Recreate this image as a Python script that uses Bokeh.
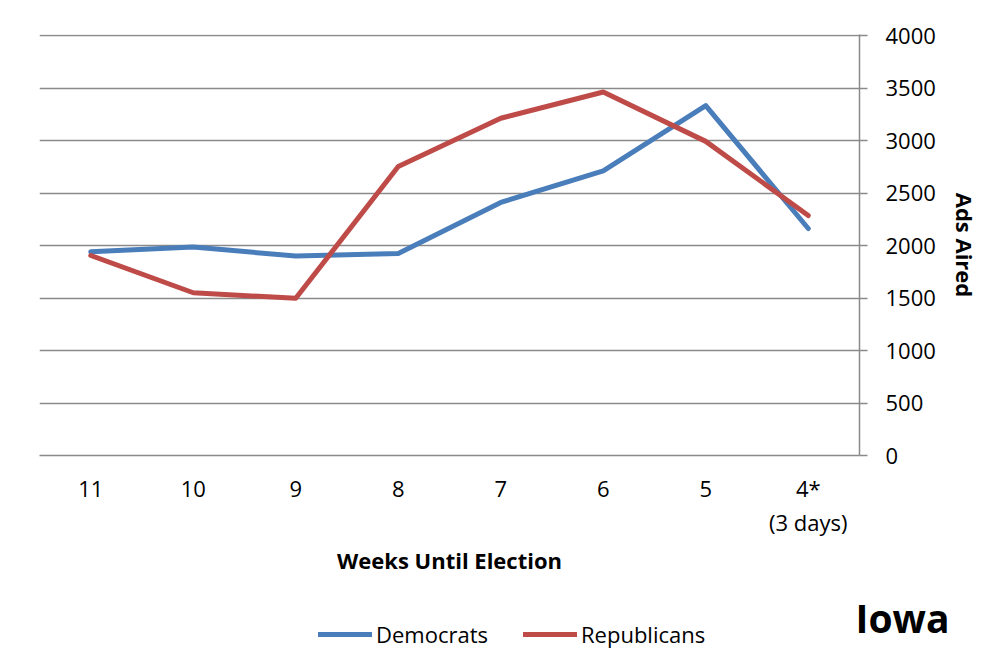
from bokeh.plotting import figure
from bokeh.models import FactorRange, Range1d, Legend, LegendItem, LinearAxis, FixedTicker
from bokeh.layouts import column
from bokeh.embed import file_html
from bokeh.resources import INLINE

weeks = ["11", "10", "9", "8", "7", "6", "5", "4*\n(3 days)"]
democrats = [1940, 1985, 1900, 1925, 2410, 2712, 3332, 2162]
republicans = [1905, 1550, 1497, 2752, 3212, 3462, 2992, 2286]
y_ticks = [0, 500, 1000, 1500, 2000, 2500, 3000, 3500, 4000]
series_names = ["Democrats", "Republicans"]
state = "Iowa"

FONT = "Open Sans"
GRAY = "#8a8a8a"
BLUE = "#4A7EBB"
RED = "#BE4B48"

p = figure(
    x_range=FactorRange(factors=weeks, range_padding=0),
    y_range=Range1d(0, 4010),
    width=997, height=585,
    min_border_left=39, min_border_top=34, min_border_right=138, min_border_bottom=130,
    output_backend="svg", toolbar_location=None,
    y_axis_location="right",
)
p.outline_line_color = None
p.background_fill_color = "white"
p.border_fill_color = "white"

# y axis (right)
ya = p.yaxis[0]
ya.ticker = FixedTicker(ticks=y_ticks)
ya.axis_line_color = GRAY
ya.axis_line_width = 1.5
ya.major_tick_line_color = GRAY
ya.major_tick_line_width = 1.5
ya.major_tick_out = 8
ya.major_tick_in = 0
ya.minor_tick_line_color = None
ya.major_label_standoff = 18
ya.major_label_text_font = FONT
ya.major_label_text_font_size = "22px"
ya.major_label_text_color = "black"
ya.axis_label = "Ads Aired"
ya.axis_label_text_font = FONT
ya.axis_label_text_font_size = "22px"
ya.axis_label_text_font_style = "bold"
ya.axis_label_text_color = "black"
ya.axis_label_standoff = 11

# x axis
xa = p.xaxis[0]
xa.axis_line_color = GRAY
xa.axis_line_width = 1.5
xa.major_tick_line_color = None
xa.minor_tick_line_color = None
xa.major_tick_out = 0
xa.major_tick_in = 0
xa.major_label_standoff = 17
xa.major_label_text_font = FONT
xa.major_label_text_font_size = "22px"
xa.major_label_text_line_height = 1.15
xa.major_label_text_color = "black"
xa.axis_label = "Weeks Until Election"
xa.axis_label_text_font = FONT
xa.axis_label_text_font_size = "22px"
xa.axis_label_text_font_style = "bold"
xa.axis_label_text_color = "black"
xa.axis_label_standoff = 5

p.xgrid.grid_line_color = None
p.ygrid.grid_line_color = GRAY
p.ygrid.grid_line_width = 1.5
p.ygrid.ticker = FixedTicker(ticks=y_ticks)

p.line(weeks, democrats, line_color=BLUE, line_width=5, line_cap="round", line_join="round")
p.line(weeks, republicans, line_color=RED, line_width=5, line_cap="round", line_join="round")

# bottom strip: legend and state name
q = figure(
    width=997, height=86,
    x_range=p.x_range, y_range=Range1d(0, 86),
    x_axis_type=None, y_axis_type=None,
    min_border=0, min_border_left=0, min_border_right=0, min_border_top=0, min_border_bottom=0,
    output_backend="svg", toolbar_location=None,
)
q.outline_line_color = None
q.xgrid.grid_line_color = None
q.ygrid.grid_line_color = None
q.background_fill_color = "white"
q.border_fill_color = "white"

# same series; values lie far above this strip's range, so only their legend keys show
k_dem = q.line(weeks, democrats, line_color=BLUE, line_width=5, line_cap="round")
k_rep = q.line(weeks, republicans, line_color=RED, line_width=5, line_cap="round")

legend = Legend(
    items=[LegendItem(label=series_names[0], renderers=[k_dem]),
           LegendItem(label=series_names[1], renderers=[k_rep])],
    orientation="horizontal",
    location=(279, 22),
    glyph_width=54, glyph_height=30, label_standoff=4, spacing=35,
    padding=0, margin=0,
    border_line_color=None, background_fill_alpha=0,
    label_text_font=FONT, label_text_font_size="22px", label_text_color="black",
)
q.add_layout(legend)

state_axis = LinearAxis(
    ticker=FixedTicker(ticks=[54]),
    major_label_overrides={54: state},
    axis_line_color=None, major_tick_line_color=None, minor_tick_line_color=None,
    major_tick_out=0, major_tick_in=0, major_label_standoff=-4,
    major_label_text_font=FONT, major_label_text_font_size="39px",
    major_label_text_font_style="bold", major_label_text_color="black",
)
q.add_layout(state_axis, "right")

layout = column(p, q, spacing=0)
open("out.html", "w").write(file_html(layout, INLINE))
